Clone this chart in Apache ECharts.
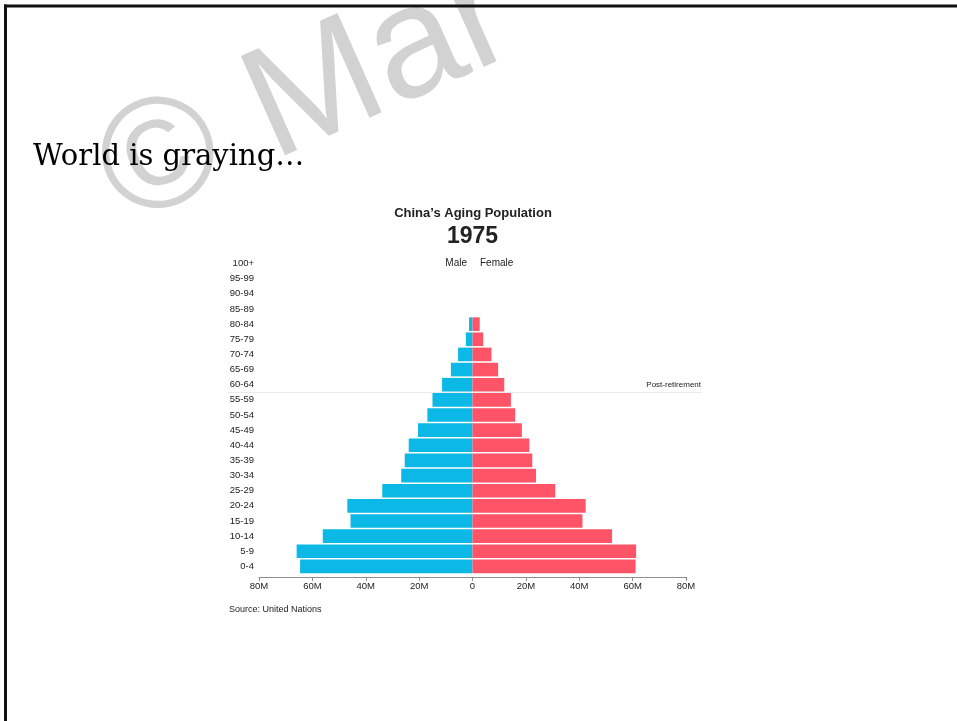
<!DOCTYPE html>
<html>
<head>
<meta charset="utf-8">
<script src="https://cdn.jsdelivr.net/npm/echarts@6/dist/echarts.min.js"></script>
<style>
  html, body { margin: 0; padding: 0; background: #fff; }
  #chart { width: 957px; height: 721px; }
</style>
</head>
<body>
<div id="chart"></div>
<script>
// Age brackets, youngest first (category axis runs bottom-up)
const ageGroups = ['0-4', '5-9', '10-14', '15-19', '20-24', '25-29', '30-34', '35-39',
  '40-44', '45-49', '50-54', '55-59', '60-64', '65-69', '70-74', '75-79', '80-84',
  '85-89', '90-94', '95-99', '100+'];

// Population in millions, China 1975
const maleMillions = [64.6, 65.9, 56.1, 45.7, 46.9, 33.8, 26.7, 25.4, 23.9, 20.4, 16.9,
  15.0, 11.4, 8.1, 5.4, 2.5, 1.3, 0, 0, 0, 0];
const femaleMillions = [61.1, 61.3, 52.3, 41.2, 42.4, 31.0, 23.8, 22.4, 21.3, 18.5, 16.0,
  14.4, 11.9, 9.6, 7.1, 4.0, 2.7, 0, 0, 0, 0];

// Horizontal axis range and step, in millions
const axisMin = -80;
const axisMax = 80;
const axisStep = 20;

// Retirement boundary sits between these two brackets
const retirementBetween = ['60-64', '55-59'];

const MALE_COLOR = '#0bb8e6';
const FEMALE_COLOR = '#ff5367';
const SANS = '"Liberation Sans", Arial, sans-serif';

const chart = echarts.init(document.getElementById('chart'), null, { renderer: 'canvas' });

chart.setOption({
  backgroundColor: '#ffffff',
  animation: false,
  grid: { left: 259, right: 271, top: 256, height: 318, containLabel: false },
  xAxis: {
    type: 'value',
    min: axisMin,
    max: axisMax,
    interval: axisStep,
    offset: 3,
    axisLine: { show: true, lineStyle: { color: '#8e8e8e', width: 1 } },
    axisTick: { show: true, length: 4, lineStyle: { color: '#8e8e8e' } },
    splitLine: { show: false },
    axisLabel: {
      margin: 4,
      fontFamily: SANS,
      fontSize: 9.5,
      color: '#222',
      formatter: v => (v === 0 ? '0' : Math.abs(v) + 'M')
    }
  },
  yAxis: {
    type: 'category',
    data: ageGroups,
    axisLine: { show: false },
    axisTick: { show: false },
    splitLine: { show: false },
    axisLabel: { margin: 5, fontFamily: SANS, fontSize: 9.5, color: '#222' }
  },
  series: [
    {
      name: 'Male',
      type: 'bar',
      data: maleMillions.map(v => -v),
      itemStyle: { color: MALE_COLOR },
      barCategoryGap: '10%',
      barGap: '-100%',
      silent: true
    },
    {
      name: 'Female',
      type: 'bar',
      data: femaleMillions,
      itemStyle: { color: FEMALE_COLOR },
      barCategoryGap: '10%',
      barGap: '-100%',
      silent: true
    }
  ]
});

// Annotations placed from the chart's own scales
const yA = chart.convertToPixel({ yAxisIndex: 0 }, retirementBetween[0]);
const yB = chart.convertToPixel({ yAxisIndex: 0 }, retirementBetween[1]);
const retireY = Math.round((yA + yB) / 2) + 0.5;

chart.setOption({
  graphic: [
    // slide frame
    { type: 'line', z: 100, shape: { x1: 4, y1: 6, x2: 957, y2: 6 }, style: { stroke: '#111', lineWidth: 3 } },
    { type: 'line', z: 100, shape: { x1: 5.5, y1: 4.5, x2: 5.5, y2: 721 }, style: { stroke: '#111', lineWidth: 3 } },
    // copyright mark
    {
      type: 'text', z: 1, x: 109, y: 186, rotation: 24 * Math.PI / 180,
      style: { text: '\u00a9 Mar', fontFamily: SANS, fontSize: 158, fill: '#d2d2d2', align: 'left', verticalAlign: 'middle' }
    },
    // slide heading
    {
      type: 'text', z: 50, x: 33, y: 157,
      style: { text: 'World is graying\u2026', fontFamily: '"DejaVu Serif", serif', fontSize: 29, fill: '#000', align: 'left', verticalAlign: 'middle' }
    },
    // chart titles
    {
      type: 'text', z: 50, x: 473, y: 213.5,
      style: { text: 'China\u2019s Aging Population', fontFamily: SANS, fontWeight: 'bold', fontSize: 13, fill: '#222', align: 'center', verticalAlign: 'middle' }
    },
    {
      type: 'text', z: 50, x: 472.5, y: 237,
      style: { text: '1975', fontFamily: SANS, fontWeight: 'bold', fontSize: 23, fill: '#222', align: 'center', verticalAlign: 'middle' }
    },
    {
      type: 'text', z: 50, x: 467, y: 263.5,
      style: { text: 'Male', fontFamily: SANS, fontSize: 10, fill: '#222', align: 'right', verticalAlign: 'middle' }
    },
    {
      type: 'text', z: 50, x: 480, y: 263.5,
      style: { text: 'Female', fontFamily: SANS, fontSize: 10, fill: '#222', align: 'left', verticalAlign: 'middle' }
    },
    // retirement boundary
    {
      type: 'line', z: 5, shape: { x1: 228, y1: retireY, x2: 702, y2: retireY },
      style: { stroke: '#ebebeb', lineWidth: 1 }
    },
    {
      type: 'text', z: 50, x: 701, y: retireY - 8,
      style: { text: 'Post-retirement', fontFamily: SANS, fontSize: 8, fill: '#222', align: 'right', verticalAlign: 'middle' }
    },
    // source note
    {
      type: 'text', z: 50, x: 229, y: 610,
      style: { text: 'Source: United Nations', fontFamily: SANS, fontSize: 9, fill: '#222', align: 'left', verticalAlign: 'middle' }
    }
  ]
});
</script>
</body>
</html>
